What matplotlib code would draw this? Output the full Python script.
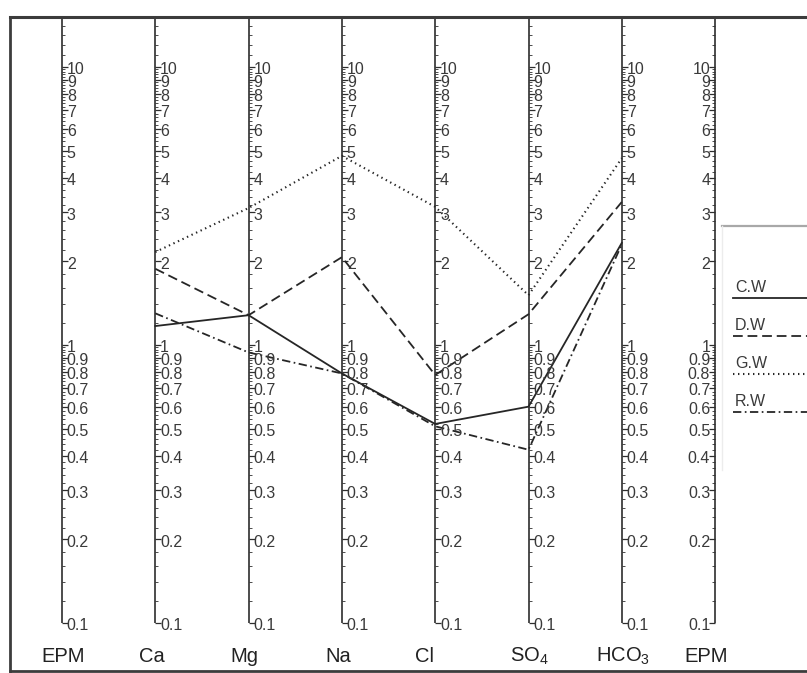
import numpy as np
import matplotlib
matplotlib.use('Agg')
import matplotlib.pyplot as plt

plt.rcParams['font.family'] = ['Liberation Sans', 'DejaVu Sans']
plt.rcParams['mathtext.default'] = 'regular'
plt.rcParams['lines.scale_dashes'] = False

# Schoeller diagram data (epm)
ions = ['Ca', 'Mg', 'Na', 'Cl', 'SO$_4$', 'HCO$_3$']
axis_labels = ['EPM'] + ions + ['EPM']
series_names = ['C.W', 'D.W', 'G.W', 'R.W']
cw = [1.17, 1.28, 0.79, 0.52, 0.60, 2.33]
dw = [1.88, 1.28, 2.07, 0.78, 1.29, 3.27]
gw = [2.16, 3.11, 4.79, 3.14, 1.51, 4.70]
rw = [1.30, 0.94, 0.79, 0.51, 0.42, 2.30]
series = [cw, dw, gw, rw]

major_ticks = [0.1, 0.2, 0.3, 0.4, 0.5, 0.6, 0.7, 0.8, 0.9,
               1, 2, 3, 4, 5, 6, 7, 8, 9, 10]
major_labels = ['0.1', '0.2', '0.3', '0.4', '0.5', '0.6', '0.7', '0.8', '0.9',
                '1', '2', '3', '4', '5', '6', '7', '8', '9', '10']
minor_ticks = [t for t in np.arange(0.12, 1.0, 0.02) if abs(t * 10 - round(t * 10)) > 1e-6]
minor_ticks += [t for t in np.arange(1.2, 10.0, 0.2) if abs(t - round(t)) > 1e-6]
minor_ticks += [11, 12, 13, 14, 15]

W, H = 807, 673
fig = plt.figure(figsize=(W / 100, H / 100), dpi=100)
ax = fig.add_axes([0, 0, 1, 1])
ax.set_yscale('log')

x0, dx = 62, 93.3      # pixel column of first axis, spacing
y1, dec = 345, 278     # pixel row of 1 epm, pixels per decade
ax.set_xlim(-x0 / dx, (W - x0) / dx)
ax.set_ylim(10 ** ((y1 - H) / dec), 10 ** (y1 / dec))
ax.axis('off')


def px(x):
    return (x - x0) / dx


def py(y):
    return 10 ** ((y1 - y) / dec)


axc = '#2e2e2e'
txc = '#3a3a3a'
top_val = py(17)

# vertical log axes
for i in range(len(axis_labels)):
    side = 1 if i < len(axis_labels) - 1 else -1
    ax.plot([i, i], [0.1, top_val], color=axc, lw=1.2, solid_capstyle='butt')
    ax.hlines(major_ticks, i, i + side * 6 / dx, color=axc, lw=0.9)
    ax.hlines(minor_ticks, i, i + side * 3 / dx, color=axc, lw=0.6)
    for v, lab in zip(major_ticks, major_labels):
        ax.annotate(lab, (i, v), xytext=(side * 3.5, -2), textcoords='offset points',
                    ha='left' if side > 0 else 'right', va='center',
                    fontsize=11.5, color=txc)

label_x = [63, 152, 244, 338, 425, 529, 623, 706]
for cx, lab in zip(label_x, axis_labels):
    ax.text(px(cx), py(656), lab, ha='center', va='center', fontsize=14.5, color='#222222')

# series
lc = '#262626'
styles = [dict(ls='-', lw=1.3),
          dict(dashes=(7, 3.5), lw=1.3),
          dict(dashes=(1, 2.6), lw=1.5),
          dict(dashes=(6, 2.5, 1.2, 2.5), lw=1.3)]
xs = np.arange(1, len(ions) + 1)
for vals, st in zip(series, styles):
    ax.plot(xs, vals, color=lc, **st)

# legend box
ax.plot([px(722), px(W)], [py(226)] * 2, color='#a8a8a8', lw=1.6)
ax.plot([px(722), px(722)], [py(226), py(470)], color='#ececec', lw=1.0)
for k, (name, st) in enumerate(zip(series_names, styles)):
    yt = 288 + 38 * k
    ax.text(px(735), py(yt), name, fontsize=11.5, va='center', color=txc)
    ax.plot([px(733), px(W)], [py(yt + 10)] * 2, color=lc, **st)

# scan frame
fc = '#3c3c3c'
ax.plot([px(10), px(W)], [py(17)] * 2, color=fc, lw=2.2)
ax.plot([px(10), px(10)], [py(17), py(671)], color=fc, lw=2.0)
ax.plot([px(10), px(W)], [py(671)] * 2, color=fc, lw=2.0)

fig.savefig('out.png', dpi=100)
